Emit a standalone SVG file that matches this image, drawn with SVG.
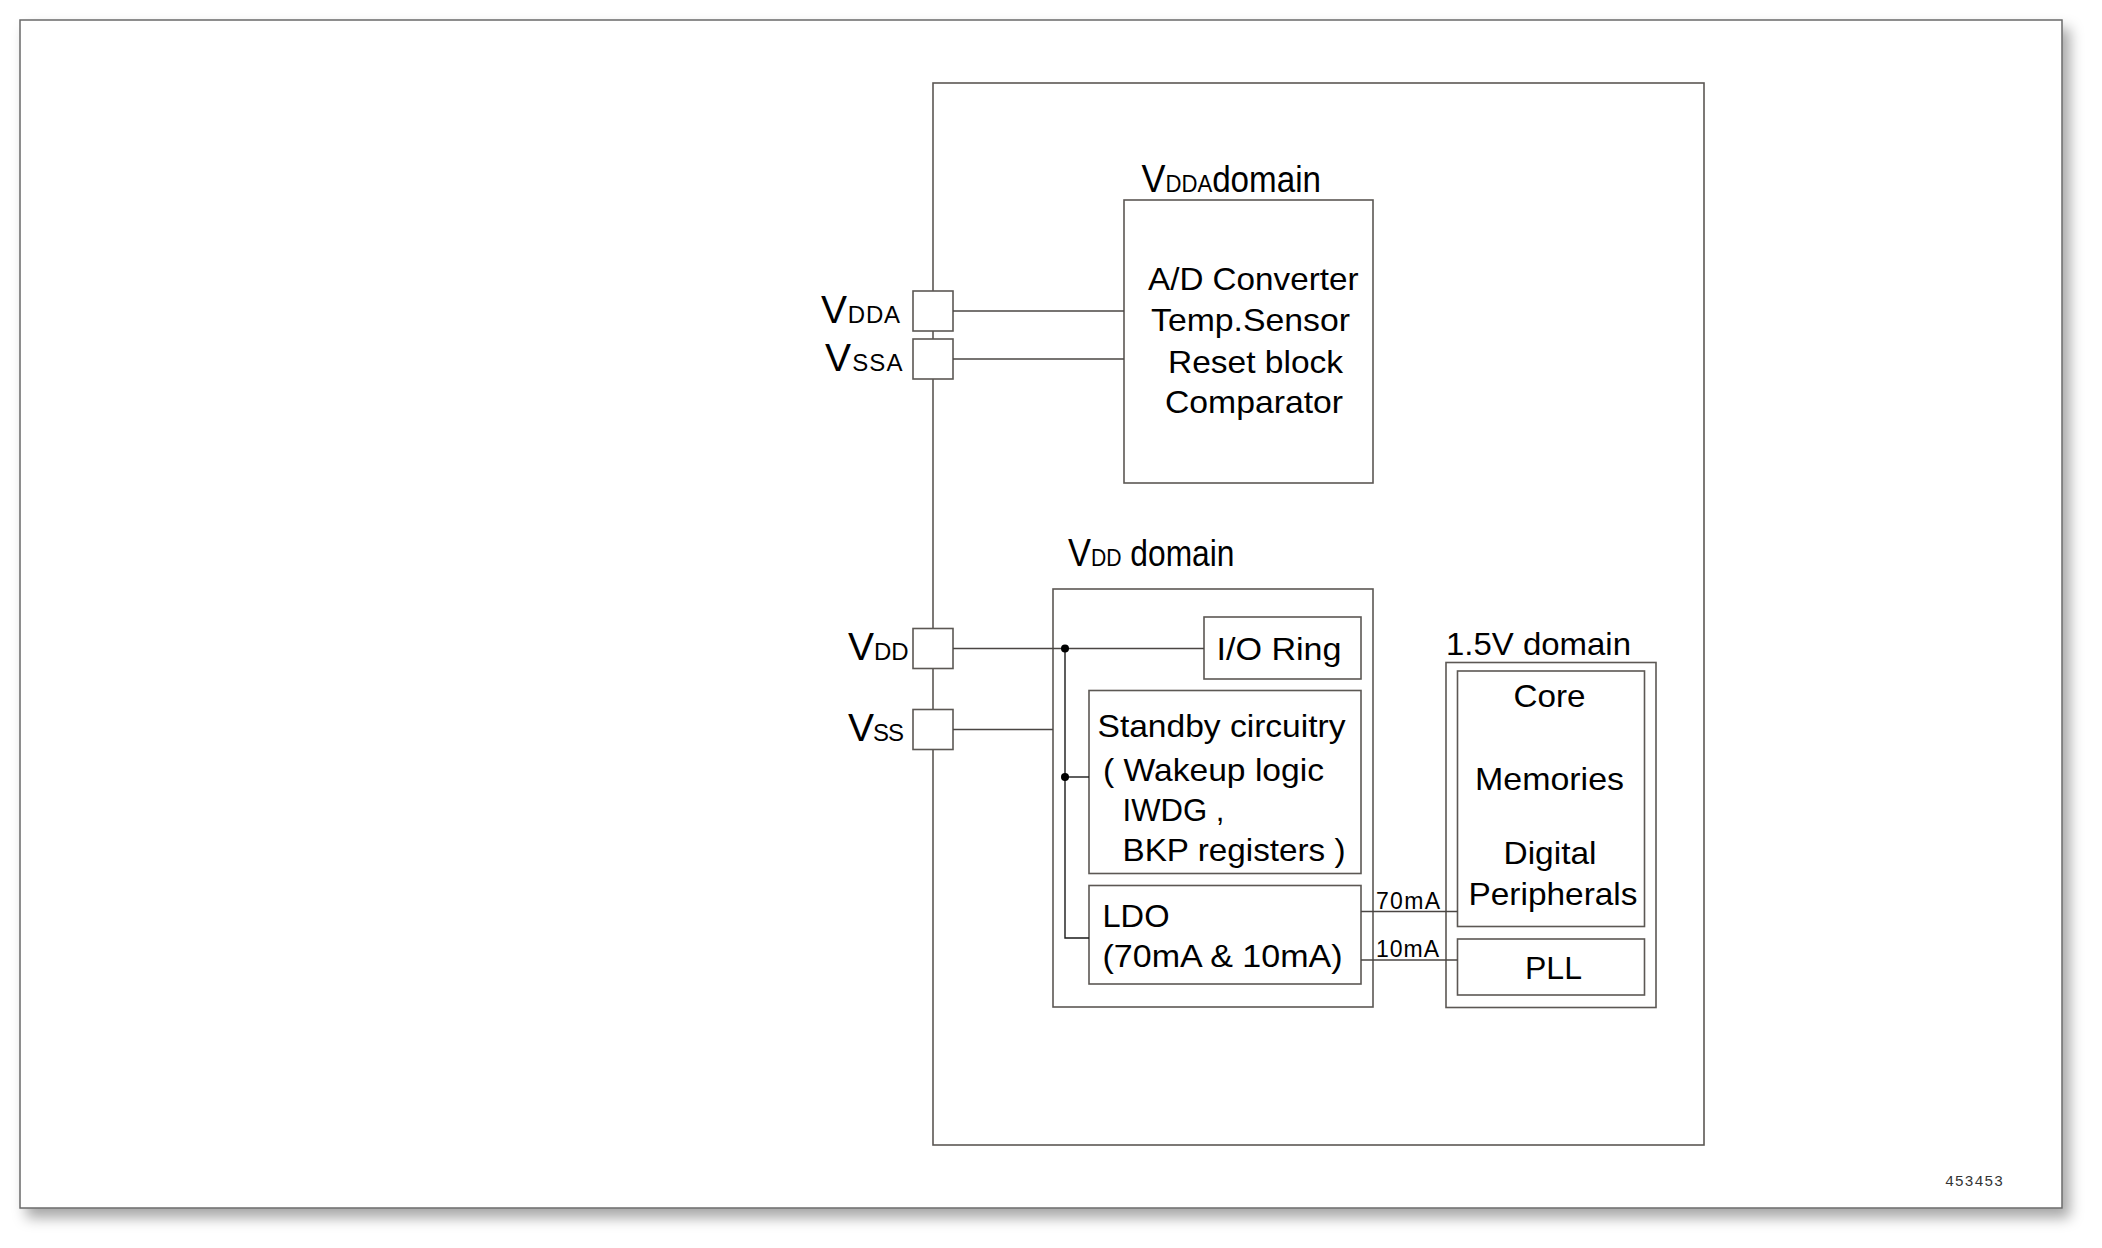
<svg xmlns="http://www.w3.org/2000/svg" width="2102" height="1248" viewBox="0 0 2102 1248">
<defs>
<filter id="shadow" x="-5%" y="-5%" width="110%" height="112%">
<feDropShadow dx="7" dy="9" stdDeviation="7" flood-color="#000" flood-opacity="0.35"/>
</filter>
<style>
.box{fill:#fff;stroke:#5c5854;stroke-width:1.6}
.pad{fill:#fff;stroke:#5c5854;stroke-width:1.6}
.wire{fill:none;stroke:#4a4643;stroke-width:1.6}
.iw{fill:none;stroke:#1a1a1a;stroke-width:1.4}
.t{font-family:"Liberation Sans",Arial,sans-serif;fill:#000;font-size:32px}
.lbl{font-family:"Liberation Sans",Arial,sans-serif;fill:#000}
.big{font-size:39px}
.sub{font-size:24px}
.dom{font-size:36px}
.cur{font-family:"Liberation Sans",Arial,sans-serif;fill:#000;font-size:23px}
.id{font-family:"Liberation Mono","Courier New",monospace;fill:#333;font-size:15px}
</style>
</defs>
<rect x="20" y="20" width="2042" height="1188" fill="#fff" stroke="#6a6a6a" stroke-width="1.5" filter="url(#shadow)"/>
<text class="id" x="1945" y="1186" textLength="58">453453</text>

<g id="chip">
<rect x="933" y="83" width="771" height="1062" fill="none" stroke="#5c5854" stroke-width="1.6"/>
</g>

<g id="pad-vdda">
<rect class="pad" x="913" y="291" width="40" height="40"/>
<text class="lbl" x="821" y="322.5" textLength="79"><tspan class="big">V</tspan><tspan class="sub">DDA</tspan></text>
</g>
<g id="pad-vssa">
<rect class="pad" x="913" y="339" width="40" height="40"/>
<text class="lbl" x="825" y="370.5" textLength="77.5"><tspan class="big">V</tspan><tspan class="sub">SSA</tspan></text>
</g>
<g id="pad-vdd">
<rect class="pad" x="913" y="628.5" width="40" height="40"/>
<text class="lbl" x="848" y="659.5" textLength="60.5"><tspan class="big">V</tspan><tspan class="sub">DD</tspan></text>
</g>
<g id="pad-vss">
<rect class="pad" x="913" y="709.5" width="40" height="40"/>
<text class="lbl" x="848" y="740.5" textLength="56"><tspan class="big">V</tspan><tspan class="sub">SS</tspan></text>
</g>

<g id="vdda-domain">
<text class="lbl" x="1141.5" y="191.5" textLength="179.5" lengthAdjust="spacingAndGlyphs"><tspan class="big">V</tspan><tspan class="sub">DDA</tspan><tspan class="dom">domain</tspan></text>
<rect class="box" x="1124" y="200" width="249" height="283"/>
<text class="t" x="1148" y="289.5" textLength="210.5" lengthAdjust="spacingAndGlyphs">A/D Converter</text>
<text class="t" x="1151" y="331" textLength="199" lengthAdjust="spacingAndGlyphs">Temp.Sensor</text>
<text class="t" x="1168" y="372.5" textLength="175" lengthAdjust="spacingAndGlyphs">Reset block</text>
<text class="t" x="1165" y="413" textLength="178" lengthAdjust="spacingAndGlyphs">Comparator</text>
</g>

<g id="vdd-domain">
<text class="lbl" x="1068" y="566" textLength="166.5" lengthAdjust="spacingAndGlyphs"><tspan class="big">V</tspan><tspan class="sub">DD</tspan><tspan class="dom"> domain</tspan></text>
<rect class="box" x="1053" y="589" width="320" height="418"/>
</g>
<g id="io-ring">
<rect class="box" x="1204" y="617" width="157" height="62"/>
<text class="t" x="1216.5" y="660" textLength="125" lengthAdjust="spacingAndGlyphs">I/O Ring</text>
</g>
<g id="standby">
<rect class="box" x="1089" y="690.5" width="272" height="183"/>
<text class="t" x="1097.5" y="737" textLength="248" lengthAdjust="spacingAndGlyphs">Standby circuitry</text>
<text class="t" x="1103" y="781" textLength="221" lengthAdjust="spacingAndGlyphs">( Wakeup logic</text>
<text class="t" x="1122.5" y="821" textLength="102" lengthAdjust="spacingAndGlyphs">IWDG ,</text>
<text class="t" x="1122.5" y="861" textLength="223" lengthAdjust="spacingAndGlyphs">BKP registers )</text>
</g>
<g id="ldo">
<rect class="box" x="1089" y="885.5" width="272" height="98.5"/>
<text class="t" x="1102.5" y="927" textLength="67" lengthAdjust="spacingAndGlyphs">LDO</text>
<text class="t" x="1102.5" y="967" textLength="240" lengthAdjust="spacingAndGlyphs">(70mA &amp; 10mA)</text>
</g>

<g id="v15-domain">
<text class="t" x="1446" y="655" textLength="185" lengthAdjust="spacingAndGlyphs">1.5V domain</text>
<rect class="box" x="1446" y="662.5" width="210" height="345"/>
</g>
<g id="core">
<rect class="box" x="1457.5" y="671" width="187" height="255.5"/>
<text class="t" x="1513.5" y="706.5" textLength="72" lengthAdjust="spacingAndGlyphs">Core</text>
<text class="t" x="1475" y="789.5" textLength="149" lengthAdjust="spacingAndGlyphs">Memories</text>
<text class="t" x="1503.5" y="864" textLength="93" lengthAdjust="spacingAndGlyphs">Digital</text>
<text class="t" x="1468.5" y="904.5" textLength="169" lengthAdjust="spacingAndGlyphs">Peripherals</text>
</g>
<g id="pll">
<rect class="box" x="1457.5" y="939" width="187" height="56"/>
<text class="t" x="1525" y="978.5" textLength="57" lengthAdjust="spacingAndGlyphs">PLL</text>
</g>

<g id="connectors">
<line class="wire" x1="953" y1="311" x2="1124" y2="311"/>
<line class="wire" x1="953" y1="359" x2="1124" y2="359"/>
<line class="wire" x1="953" y1="648.5" x2="1204" y2="648.5"/>
<line class="wire" x1="953" y1="729.5" x2="1053" y2="729.5"/>
<polyline class="iw" points="1065,648.5 1065,938 1089,938"/>
<line class="iw" x1="1065" y1="777" x2="1089" y2="777"/>
<circle cx="1065" cy="648.5" r="4" fill="#000"/>
<circle cx="1065" cy="777" r="4" fill="#000"/>
<line class="wire" x1="1361" y1="911.5" x2="1457.5" y2="911.5"/>
<line class="wire" x1="1361" y1="960" x2="1457.5" y2="960"/>
<text class="cur" x="1376" y="909" textLength="64">70mA</text>
<text class="cur" x="1376" y="957" textLength="63">10mA</text>
</g>
</svg>
